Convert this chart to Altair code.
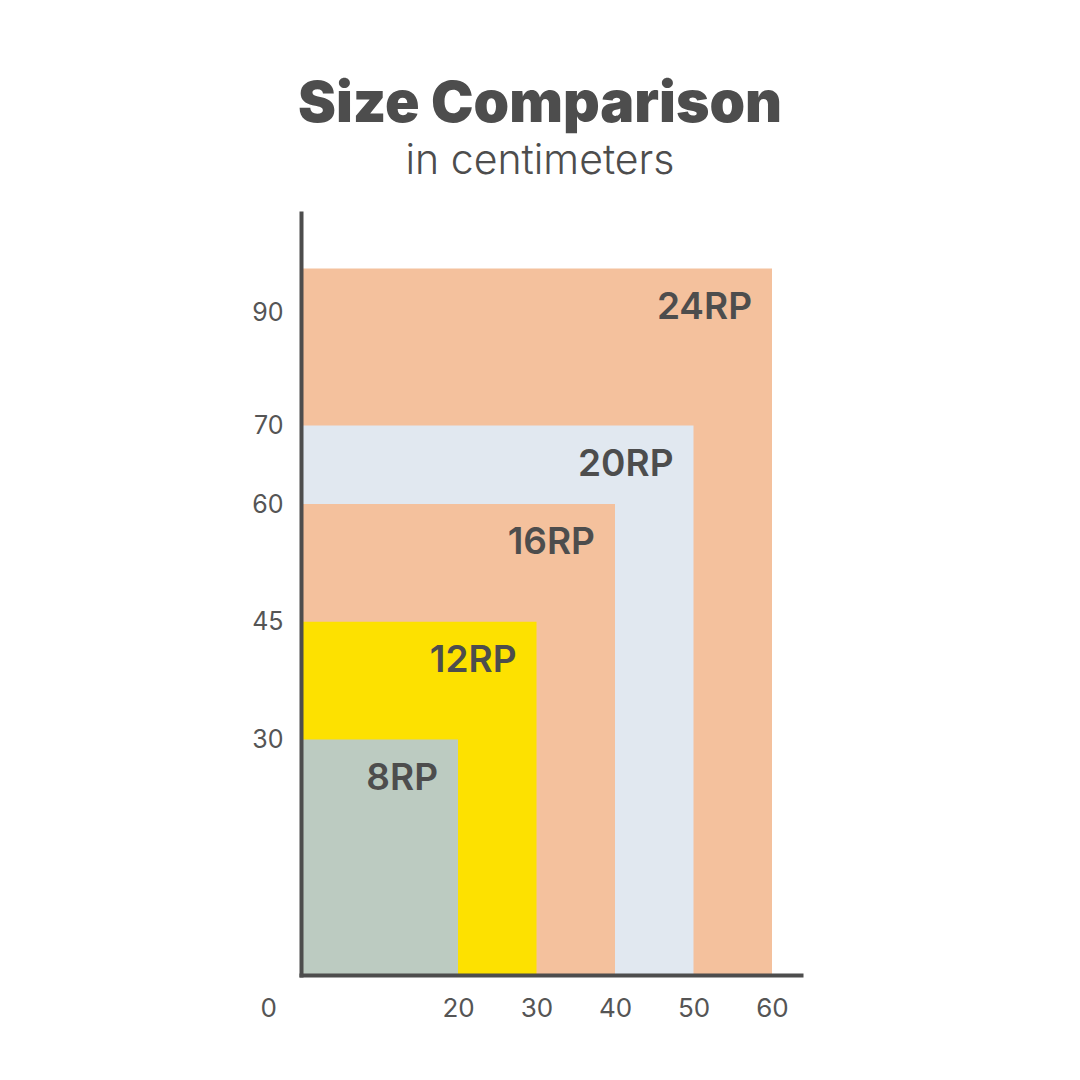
import altair as alt
import pandas as pd

labels = ["24RP", "20RP", "16RP", "12RP", "8RP"]
widths = [60, 50, 40, 30, 20]
heights = [90, 70, 60, 45, 30]
colors = ["#F4C19D", "#E1E8F0", "#F4C19D", "#FDE100", "#BCCBC1"]

x_ticks = [0, 20, 30, 40, 50, 60]
y_ticks = [30, 45, 60, 70, 90]

df = pd.DataFrame({"label": labels, "w": widths, "h": heights})
df["zero"] = 0
df["order"] = range(len(df))

SCALE = 7.85
W, H = 500, 762
xs = alt.Scale(domain=[0, W / SCALE], nice=False, zero=True)
ys = alt.Scale(domain=[0, H / SCALE], nice=False, zero=True)

axis_style = dict(
    labelFont="Inter", labelColor="#555555", ticks=False, grid=False, title=None,
    domainColor="#4d4d4d", domainWidth=4, domainCap="square", zindex=2,
)

base = alt.Chart(df)

rects = base.mark_rect().encode(
    x=alt.X("zero:Q", scale=xs, axis=alt.Axis(
        values=x_ticks, labelPadding=20, labelFontSize=26,
        labelOffset={"condition": {"test": "datum.value == 0", "value": -41}, "value": 0},
        **axis_style,
    )),
    x2="w:Q",
    y=alt.Y("zero:Q", scale=ys, axis=alt.Axis(
        values=y_ticks, labelPadding=18, labelFontSize=25,
        labelOffset={"condition": {"test": "datum.value == 90", "value": 44}, "value": 0},
        **axis_style,
    )),
    y2="h:Q",
    color=alt.Color("label:N", scale=alt.Scale(domain=labels, range=colors), legend=None),
    order="order:Q",
)

texts = base.mark_text(
    align="right", baseline="top", dx=-20, dy=21,
    font="Inter", fontSize=37, fontWeight=600, color="#4d4d4d",
).encode(
    x=alt.X("w:Q", scale=xs),
    y=alt.Y("h:Q", scale=ys),
    text="label:N",
)

chart = alt.layer(rects, texts).properties(
    width=W, height=H,
    autosize=alt.AutoSizeParams(type="none"),
    padding={"left": 293, "top": 205, "right": 10, "bottom": 100},
    title=alt.Title(
        text="Size Comparison", subtitle="in centimeters",
        anchor="middle", dx=-11, offset=30,
        font="Inter", fontSize=57, fontWeight=900, color="#4d4d4d",
        subtitleFont="Inter", subtitleFontSize=41, subtitleFontWeight=300,
        subtitleColor="#4d4d4d", subtitlePadding=8,
    ),
).configure_view(stroke=None)

chart.save("out.html", embed_options={"renderer": "svg", "actions": False})
